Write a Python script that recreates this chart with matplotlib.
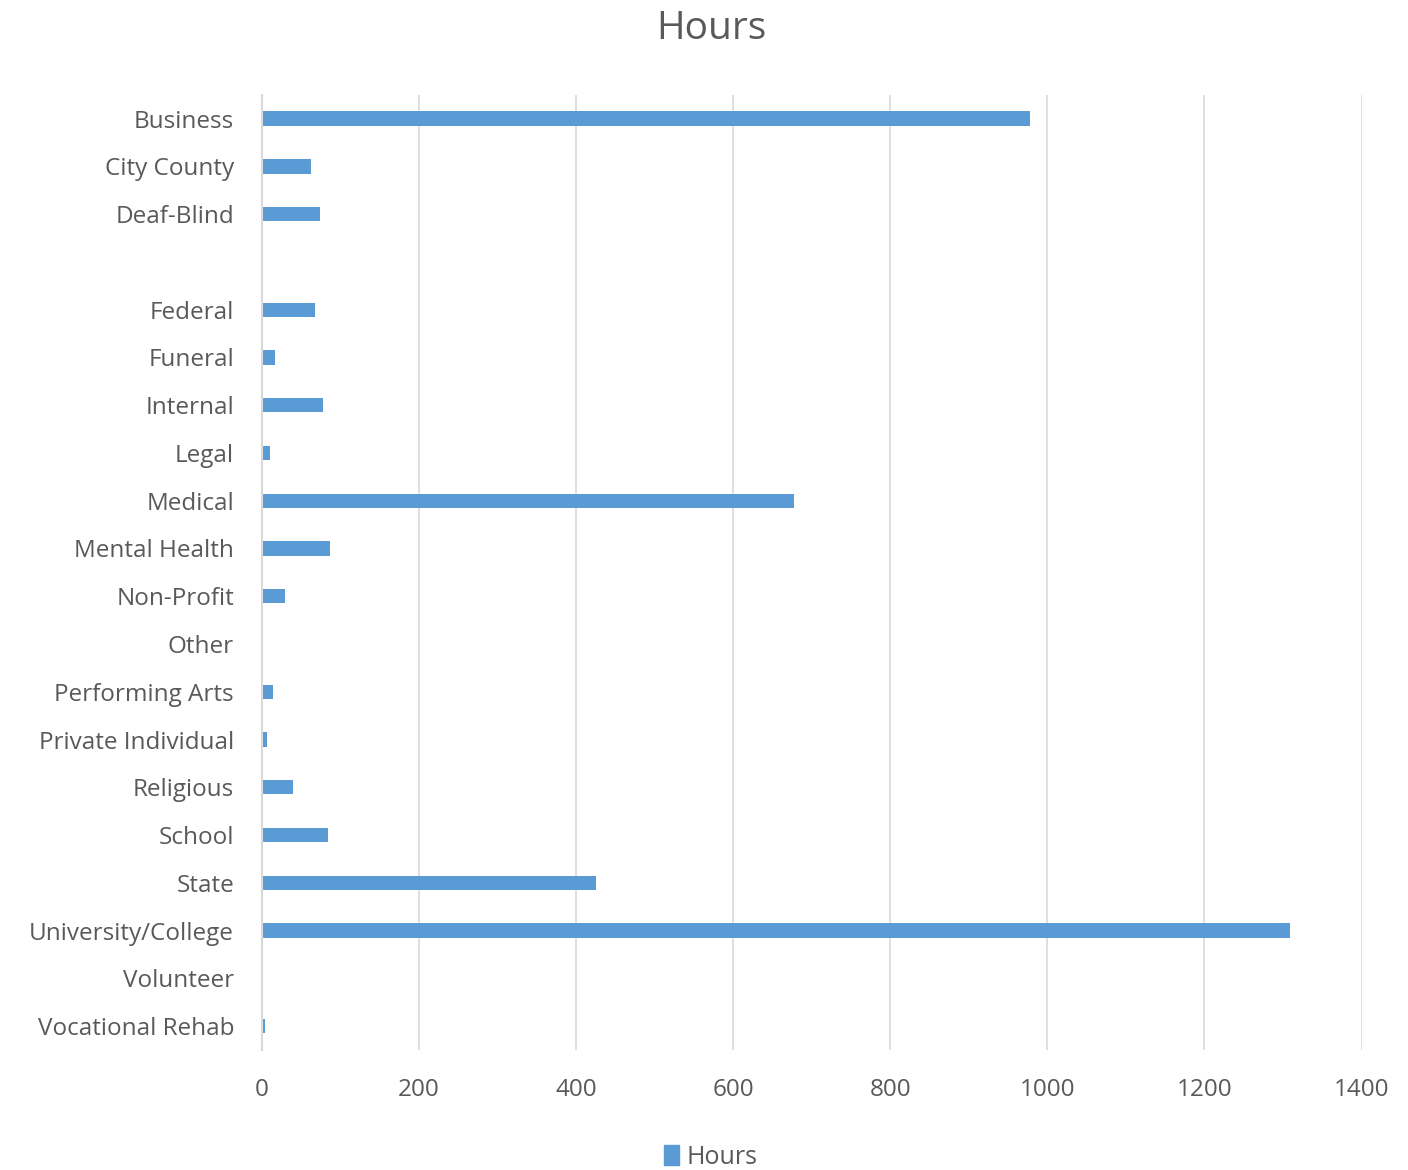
import numpy as np
import matplotlib
matplotlib.use("Agg")
import matplotlib.pyplot as plt
from matplotlib.patches import Patch

# categories (one blank slot between Deaf-Blind and Federal)
categorias = ["Business", "City County", "Deaf-Blind", "", "Federal", "Funeral",
              "Internal", "Legal", "Medical", "Mental Health", "Non-Profit", "Other",
              "Performing Arts", "Private Individual", "Religious", "School", "State",
              "University/College", "Volunteer", "Vocational Rehab"]
horas = [978, 62, 74, 0, 68, 17, 78, 10, 677, 87, 30, 0,
         14, 7, 39, 84, 426, 1309, 0, 4]
ticks_x = [0, 200, 400, 600, 800, 1000, 1200, 1400]

azul = "#5B9BD5"
gris_txt = "#595959"

plt.rcParams['font.family'] = ['Open Sans', 'DejaVu Sans']

fig = plt.figure(figsize=(14.08, 11.7), dpi=100)
ax = fig.add_axes([0.186, 0.1026, 0.781, 0.8164])

y = np.arange(len(categorias))
ax.barh(y, horas, height=0.3, color=azul, zorder=3)

ax.set_ylim(len(categorias) - 0.5, -0.5)
ax.set_xlim(0, 1400)
ax.set_yticks(y)
ax.set_yticklabels(categorias, fontsize=17.5, color=gris_txt)
ax.set_xticks(ticks_x)
ax.set_xticklabels([str(t) for t in ticks_x], fontsize=17.5, color=gris_txt)
ax.tick_params(axis='y', length=0, pad=20)
ax.tick_params(axis='x', length=0, pad=20)

ax.grid(axis='x', color="#D9D9D9", linewidth=1.2, zorder=0)
for s in ["top", "right", "bottom"]:
    ax.spines[s].set_visible(False)
ax.spines["left"].set_color("#D9D9D9")
ax.spines["left"].set_linewidth(1.5)
ax.spines["left"].set_zorder(4)

fig.text(0.505, 0.975, "Hours", ha="center", va="center", fontsize=28, color=gris_txt)

fig.legend(handles=[Patch(color=azul, label="Hours")], loc="center",
           bbox_to_anchor=(0.505, 0.011), frameon=False, fontsize=18,
           handlelength=0.6, handleheight=0.8, handletextpad=0.3, labelcolor=gris_txt)

fig.savefig("out.png", dpi=100)
